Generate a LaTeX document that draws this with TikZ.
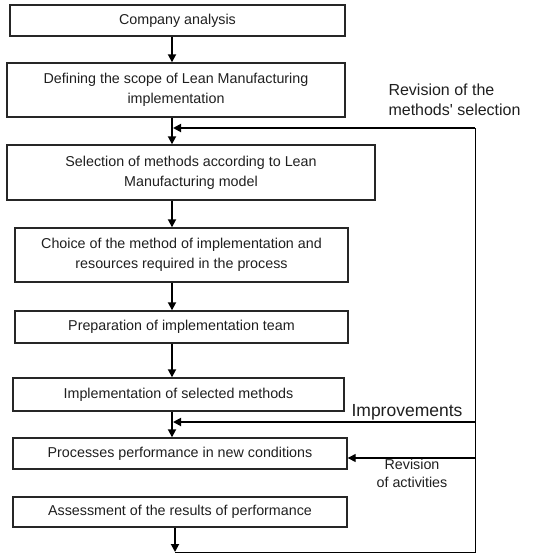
\documentclass[tikz,border=0pt]{standalone}
\usepackage{fontspec}
\setmainfont{Liberation Sans}
\usepackage{tikz}
\usetikzlibrary{arrows.meta, positioning, calc}
\definecolor{myframe}{rgb}{0.15, 0.15, 0.15}
\definecolor{mytext}{rgb}{0.12, 0.12, 0.12}
\tikzstyle{box} = [draw=myframe, line width=1.4pt, align=center, inner sep=0pt, text=mytext, font=\fontsize{14.3}{20}\selectfont]
\tikzstyle{arrow} = [line width=1.8pt, -{Triangle[length=8pt, width=8pt]}]
\tikzstyle{loop} = [line width=1pt]
\tikzstyle{note} = [text=mytext, font=\fontsize{16}{20}\selectfont]

\begin{document}
\begin{tikzpicture}[x=1pt, y=-1pt]
    \useasboundingbox (0,0) rectangle (553,555);
    % main chain
    \node[box, minimum width=335pt, minimum height=31pt] (ca) at (177.5,20.5) {Company analysis};
    \node[box, minimum width=338pt, minimum height=54pt] (scope) at (176,90) {Defining the scope of Lean Manufacturing\\implementation};
    \node[box, minimum width=368pt, minimum height=55pt] (sel) at (191,172.5) {Selection of methods according to Lean\\Manufacturing model};
    \node[box, minimum width=333pt, minimum height=54pt] (choice) at (181.5,255) {Choice of the method of implementation and\\resources required in the process};
    \node[box, minimum width=333pt, minimum height=32pt] (team) at (181.5,327) {Preparation of implementation team};
    \node[box, minimum width=331pt, minimum height=33pt] (impl) at (178.5,394.5) {Implementation of selected methods};
    \node[box, minimum width=334pt, minimum height=31pt] (perf) at (180,453.5) {Processes performance in new conditions};
    \node[box, minimum width=334pt, minimum height=30pt] (assess) at (180,512) {Assessment of the results of performance};
    \coordinate (spine) at (172,0);
    \draw[arrow] (ca.south -| spine) -- (scope.north -| spine);
    \draw[arrow] (scope.south -| spine) -- (sel.north -| spine);
    \draw[arrow] (sel.south -| spine) -- (choice.north -| spine);
    \draw[arrow] (choice.south -| spine) -- (team.north -| spine);
    \draw[arrow] (team.south -| spine) -- (impl.north -| spine);
    \draw[arrow] (impl.south -| spine) -- (perf.north -| spine);
    % feedback loops
    \coordinate (fbtop) at (475,128);
    \coordinate (fbimp) at (475,422);
    \coordinate (fbrev) at (475,458);
    \coordinate (fbend) at (475,552);
    \coordinate (tail) at (175,552);
    \draw[arrow] (assess.south -| tail) -- (tail);
    \draw[loop] (tail) -- (fbend) -- (fbtop);
    \draw[arrow, shorten >=1pt] (fbtop) -- (spine |- fbtop);
    \draw[arrow, shorten >=1pt] (fbimp) -- (spine |- fbimp);
    \draw[arrow, line width=1.3pt] (fbrev) -- (perf.east |- fbrev);
    \node[note, anchor=west, align=left] (revsel) at (385,100) {Revision of the\\methods\textquotesingle{} selection};
    \node[note, font=\fontsize{17.5}{20}\selectfont] (improve) at (407,412) {Improvements};
    \node[text=mytext, align=center, font=\fontsize{14.3}{18}\selectfont] (revact) at (412,473) {Revision\\of activities};
\end{tikzpicture}
\end{document}
